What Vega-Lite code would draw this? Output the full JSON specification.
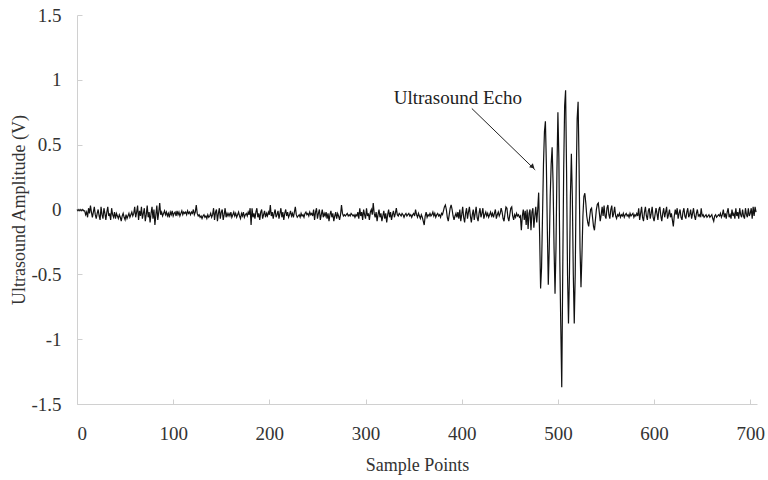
{
  "$schema": "https://vega.github.io/schema/vega-lite/v6.json",
  "width": 680,
  "height": 389,
  "autosize": {"type": "none"},
  "padding": {"left": 77, "top": 15, "right": 11, "bottom": 76},
  "background": "white",
  "config": {
    "view": {"stroke": null},
    "font": "Liberation Serif",
    "axis": {
      "grid": false,
      "domainColor": "#d0d0d0",
      "tickColor": "#d0d0d0",
      "tickSize": -5,
      "labelFont": "Liberation Serif",
      "labelFontSize": 19,
      "labelColor": "#333333",
      "titleFont": "Liberation Serif",
      "titleFontSize": 18,
      "titleFontWeight": "normal",
      "titleColor": "#333333"
    }
  },
  "datasets": {
    "signal": [
      {"x":0,"y":0},{"x":1,"y":-0.01},{"x":2,"y":0},{"x":3,"y":-0.01},{"x":4,"y":0},{"x":5,"y":-0.01},{"x":6,"y":0},{"x":7,"y":-0.01},{"x":8,"y":-0.01},{"x":9,"y":-0.04},
      {"x":10,"y":-0.02},{"x":11,"y":-0.06},{"x":12,"y":0.01},{"x":13,"y":-0.03},{"x":14,"y":0.03},{"x":15,"y":-0.02},{"x":16,"y":-0.06},{"x":17,"y":-0.02},{"x":18,"y":0.02},{"x":19,"y":-0.04},
      {"x":20,"y":-0.07},{"x":21,"y":-0.03},{"x":22,"y":0},{"x":23,"y":-0.05},{"x":24,"y":-0.08},{"x":25,"y":0.02},{"x":26,"y":-0.04},{"x":27,"y":-0.07},{"x":28,"y":0.01},{"x":29,"y":-0.03},
      {"x":30,"y":-0.08},{"x":31,"y":-0.02},{"x":32,"y":0.02},{"x":33,"y":-0.05},{"x":34,"y":-0.03},{"x":35,"y":-0.08},{"x":36,"y":0.01},{"x":37,"y":-0.04},{"x":38,"y":-0.06},{"x":39,"y":-0.02},
      {"x":40,"y":-0.07},{"x":41,"y":-0.03},{"x":42,"y":-0.05},{"x":43,"y":-0.07},{"x":44,"y":-0.04},{"x":45,"y":-0.06},{"x":46,"y":-0.09},{"x":47,"y":-0.05},{"x":48,"y":-0.03},{"x":49,"y":-0.06},
      {"x":50,"y":-0.08},{"x":51,"y":-0.04},{"x":52,"y":-0.07},{"x":53,"y":-0.05},{"x":54,"y":-0.03},{"x":55,"y":-0.06},{"x":56,"y":-0.04},{"x":57,"y":-0.02},{"x":58,"y":-0.05},{"x":59,"y":-0.03},
      {"x":60,"y":0.02},{"x":61,"y":-0.06},{"x":62,"y":-0.02},{"x":63,"y":0.03},{"x":64,"y":-0.08},{"x":65,"y":-0.01},{"x":66,"y":-0.05},{"x":67,"y":0.02},{"x":68,"y":-0.07},{"x":69,"y":-0.03},
      {"x":70,"y":0.01},{"x":71,"y":-0.09},{"x":72,"y":-0.04},{"x":73,"y":0.03},{"x":74,"y":-0.06},{"x":75,"y":-0.02},{"x":76,"y":-0.1},{"x":77,"y":-0.03},{"x":78,"y":0.02},{"x":79,"y":-0.07},
      {"x":80,"y":0},{"x":81,"y":-0.12},{"x":82,"y":-0.04},{"x":83,"y":0.03},{"x":84,"y":-0.08},{"x":85,"y":-0.02},{"x":86,"y":0.05},{"x":87,"y":-0.04},{"x":88,"y":-0.02},{"x":89,"y":-0.05},
      {"x":90,"y":-0.03},{"x":91,"y":-0.01},{"x":92,"y":-0.04},{"x":93,"y":-0.02},{"x":94,"y":-0.05},{"x":95,"y":-0.03},{"x":96,"y":-0.06},{"x":97,"y":-0.02},{"x":98,"y":-0.04},{"x":99,"y":-0.01},
      {"x":100,"y":-0.05},{"x":101,"y":-0.03},{"x":102,"y":-0.02},{"x":103,"y":-0.05},{"x":104,"y":-0.01},{"x":105,"y":-0.04},{"x":106,"y":-0.02},{"x":107,"y":-0.05},{"x":108,"y":-0.03},{"x":109,"y":-0.01},
      {"x":110,"y":-0.04},{"x":111,"y":-0.02},{"x":112,"y":-0.03},{"x":113,"y":-0.02},{"x":114,"y":-0.04},{"x":115,"y":-0.01},{"x":116,"y":-0.03},{"x":117,"y":-0.02},{"x":118,"y":-0.04},{"x":119,"y":-0.02},
      {"x":120,"y":-0.03},{"x":121,"y":0},{"x":122,"y":-0.04},{"x":123,"y":-0.02},{"x":124,"y":0.035},{"x":125,"y":-0.03},{"x":126,"y":-0.05},{"x":127,"y":-0.04},{"x":128,"y":-0.06},{"x":129,"y":-0.05},
      {"x":130,"y":-0.07},{"x":131,"y":-0.05},{"x":132,"y":-0.04},{"x":133,"y":-0.06},{"x":134,"y":-0.05},{"x":135,"y":-0.07},{"x":136,"y":-0.04},{"x":137,"y":-0.06},{"x":138,"y":-0.05},{"x":139,"y":-0.03},
      {"x":140,"y":-0.06},{"x":141,"y":-0.04},{"x":142,"y":0.01},{"x":143,"y":-0.08},{"x":144,"y":-0.02},{"x":145,"y":0},{"x":146,"y":-0.09},{"x":147,"y":-0.03},{"x":148,"y":0.01},{"x":149,"y":-0.07},
      {"x":150,"y":-0.02},{"x":151,"y":0},{"x":152,"y":-0.08},{"x":153,"y":-0.04},{"x":154,"y":0.01},{"x":155,"y":-0.06},{"x":156,"y":-0.03},{"x":157,"y":-0.05},{"x":158,"y":-0.03},{"x":159,"y":-0.05},
      {"x":160,"y":-0.02},{"x":161,"y":-0.06},{"x":162,"y":-0.04},{"x":163,"y":-0.02},{"x":164,"y":-0.05},{"x":165,"y":-0.03},{"x":166,"y":-0.06},{"x":167,"y":-0.04},{"x":168,"y":-0.02},{"x":169,"y":-0.05},
      {"x":170,"y":-0.07},{"x":171,"y":-0.03},{"x":172,"y":-0.05},{"x":173,"y":-0.02},{"x":174,"y":-0.06},{"x":175,"y":-0.04},{"x":176,"y":-0.03},{"x":177,"y":-0.05},{"x":178,"y":-0.02},{"x":179,"y":-0.04},
      {"x":180,"y":0.01},{"x":181,"y":-0.12},{"x":182,"y":0.01},{"x":183,"y":-0.06},{"x":184,"y":-0.03},{"x":185,"y":-0.07},{"x":186,"y":-0.02},{"x":187,"y":0.01},{"x":188,"y":-0.06},{"x":189,"y":-0.03},
      {"x":190,"y":-0.08},{"x":191,"y":-0.02},{"x":192,"y":0},{"x":193,"y":-0.07},{"x":194,"y":-0.04},{"x":195,"y":-0.01},{"x":196,"y":-0.06},{"x":197,"y":-0.03},{"x":198,"y":-0.05},{"x":199,"y":-0.02},
      {"x":200,"y":-0.04},{"x":201,"y":0.035},{"x":202,"y":-0.05},{"x":203,"y":-0.02},{"x":204,"y":-0.07},{"x":205,"y":-0.03},{"x":206,"y":0},{"x":207,"y":-0.06},{"x":208,"y":-0.04},{"x":209,"y":-0.01},
      {"x":210,"y":-0.07},{"x":211,"y":-0.03},{"x":212,"y":0.01},{"x":213,"y":-0.06},{"x":214,"y":-0.02},{"x":215,"y":-0.08},{"x":216,"y":-0.03},{"x":217,"y":0},{"x":218,"y":-0.05},{"x":219,"y":-0.02},
      {"x":220,"y":-0.06},{"x":221,"y":-0.04},{"x":222,"y":-0.01},{"x":223,"y":-0.05},{"x":224,"y":-0.03},{"x":225,"y":-0.06},{"x":226,"y":-0.02},{"x":227,"y":0.02},{"x":228,"y":-0.04},{"x":229,"y":-0.06},
      {"x":230,"y":-0.05},{"x":231,"y":-0.04},{"x":232,"y":-0.06},{"x":233,"y":-0.03},{"x":234,"y":-0.05},{"x":235,"y":-0.04},{"x":236,"y":-0.06},{"x":237,"y":-0.03},{"x":238,"y":-0.02},{"x":239,"y":-0.04},
      {"x":240,"y":-0.03},{"x":241,"y":-0.05},{"x":242,"y":-0.02},{"x":243,"y":-0.04},{"x":244,"y":-0.03},{"x":245,"y":-0.05},{"x":246,"y":0},{"x":247,"y":-0.08},{"x":248,"y":-0.02},{"x":249,"y":0.01},
      {"x":250,"y":-0.07},{"x":251,"y":-0.03},{"x":252,"y":0},{"x":253,"y":-0.08},{"x":254,"y":-0.04},{"x":255,"y":0},{"x":256,"y":-0.06},{"x":257,"y":-0.03},{"x":258,"y":-0.05},{"x":259,"y":-0.02},
      {"x":260,"y":-0.07},{"x":261,"y":-0.03},{"x":262,"y":-0.09},{"x":263,"y":-0.04},{"x":264,"y":-0.01},{"x":265,"y":-0.06},{"x":266,"y":-0.03},{"x":267,"y":-0.09},{"x":268,"y":-0.05},{"x":269,"y":-0.02},
      {"x":270,"y":-0.07},{"x":271,"y":-0.03},{"x":272,"y":-0.05},{"x":273,"y":-0.08},{"x":274,"y":-0.04},{"x":275,"y":0.035},{"x":276,"y":-0.03},{"x":277,"y":-0.05},{"x":278,"y":-0.04},{"x":279,"y":-0.05},
      {"x":280,"y":-0.04},{"x":281,"y":-0.03},{"x":282,"y":-0.05},{"x":283,"y":-0.04},{"x":284,"y":-0.05},{"x":285,"y":-0.03},{"x":286,"y":-0.04},{"x":287,"y":-0.05},{"x":288,"y":-0.04},{"x":289,"y":-0.06},
      {"x":290,"y":-0.04},{"x":291,"y":-0.05},{"x":292,"y":-0.02},{"x":293,"y":-0.07},{"x":294,"y":0.01},{"x":295,"y":-0.05},{"x":296,"y":-0.02},{"x":297,"y":-0.08},{"x":298,"y":0},{"x":299,"y":-0.04},
      {"x":300,"y":-0.07},{"x":301,"y":0.01},{"x":302,"y":-0.05},{"x":303,"y":-0.03},{"x":304,"y":-0.08},{"x":305,"y":-0.02},{"x":306,"y":0},{"x":307,"y":-0.04},{"x":308,"y":0.05},{"x":309,"y":-0.03},
      {"x":310,"y":-0.06},{"x":311,"y":-0.02},{"x":312,"y":-0.09},{"x":313,"y":-0.04},{"x":314,"y":0},{"x":315,"y":-0.06},{"x":316,"y":-0.03},{"x":317,"y":-0.09},{"x":318,"y":-0.05},{"x":319,"y":-0.01},
      {"x":320,"y":-0.07},{"x":321,"y":-0.03},{"x":322,"y":-0.1},{"x":323,"y":-0.04},{"x":324,"y":0},{"x":325,"y":-0.06},{"x":326,"y":-0.02},{"x":327,"y":-0.08},{"x":328,"y":-0.04},{"x":329,"y":-0.01},
      {"x":330,"y":-0.06},{"x":331,"y":-0.03},{"x":332,"y":0.01},{"x":333,"y":-0.04},{"x":334,"y":-0.05},{"x":335,"y":-0.03},{"x":336,"y":-0.04},{"x":337,"y":-0.05},{"x":338,"y":-0.03},{"x":339,"y":-0.04},
      {"x":340,"y":-0.06},{"x":341,"y":-0.04},{"x":342,"y":-0.03},{"x":343,"y":-0.05},{"x":344,"y":-0.04},{"x":345,"y":-0.03},{"x":346,"y":-0.05},{"x":347,"y":-0.04},{"x":348,"y":-0.06},{"x":349,"y":-0.04},
      {"x":350,"y":-0.03},{"x":351,"y":-0.05},{"x":352,"y":0},{"x":353,"y":-0.04},{"x":354,"y":-0.06},{"x":355,"y":-0.03},{"x":356,"y":-0.05},{"x":357,"y":-0.07},{"x":358,"y":-0.04},{"x":359,"y":-0.06},
      {"x":360,"y":-0.09},{"x":361,"y":-0.12},{"x":362,"y":-0.05},{"x":363,"y":-0.02},{"x":364,"y":-0.06},{"x":365,"y":-0.04},{"x":366,"y":-0.05},{"x":367,"y":-0.03},{"x":368,"y":-0.05},{"x":369,"y":-0.04},
      {"x":370,"y":-0.02},{"x":371,"y":-0.05},{"x":372,"y":-0.03},{"x":373,"y":-0.06},{"x":374,"y":-0.04},{"x":375,"y":-0.03},{"x":376,"y":-0.05},{"x":377,"y":-0.04},{"x":378,"y":-0.06},{"x":379,"y":-0.03},
      {"x":380,"y":-0.04},{"x":381,"y":-0.01},{"x":382,"y":0.02},{"x":383,"y":0.035},{"x":384,"y":0},{"x":385,"y":-0.06},{"x":386,"y":-0.09},{"x":387,"y":-0.04},{"x":388,"y":0.01},{"x":389,"y":0.035},
      {"x":390,"y":0},{"x":391,"y":-0.05},{"x":392,"y":-0.08},{"x":393,"y":-0.05},{"x":394,"y":-0.03},{"x":395,"y":-0.06},{"x":396,"y":-0.02},{"x":397,"y":-0.07},{"x":398,"y":0},{"x":399,"y":-0.09},
      {"x":400,"y":-0.04},{"x":401,"y":0.02},{"x":402,"y":-0.06},{"x":403,"y":-0.1},{"x":404,"y":-0.03},{"x":405,"y":0.01},{"x":406,"y":-0.07},{"x":407,"y":-0.02},{"x":408,"y":0.02},{"x":409,"y":-0.05},
      {"x":410,"y":-0.1},{"x":411,"y":-0.04},{"x":412,"y":0},{"x":413,"y":-0.08},{"x":414,"y":-0.03},{"x":415,"y":0.02},{"x":416,"y":-0.06},{"x":417,"y":-0.09},{"x":418,"y":-0.03},{"x":419,"y":0.01},
      {"x":420,"y":-0.06},{"x":421,"y":-0.03},{"x":422,"y":0.01},{"x":423,"y":-0.07},{"x":424,"y":-0.04},{"x":425,"y":-0.02},{"x":426,"y":-0.05},{"x":427,"y":-0.03},{"x":428,"y":-0.06},{"x":429,"y":-0.04},
      {"x":430,"y":-0.02},{"x":431,"y":-0.05},{"x":432,"y":-0.03},{"x":433,"y":-0.06},{"x":434,"y":-0.03},{"x":435,"y":0},{"x":436,"y":-0.07},{"x":437,"y":-0.04},{"x":438,"y":-0.02},{"x":439,"y":-0.05},
      {"x":440,"y":-0.03},{"x":441,"y":0.01},{"x":442,"y":-0.02},{"x":443,"y":-0.07},{"x":444,"y":-0.09},{"x":445,"y":-0.03},{"x":446,"y":0.02},{"x":447,"y":0.01},{"x":448,"y":-0.06},{"x":449,"y":-0.09},
      {"x":450,"y":-0.04},{"x":451,"y":0.01},{"x":452,"y":0.02},{"x":453,"y":-0.05},{"x":454,"y":-0.08},{"x":455,"y":-0.04},{"x":456,"y":-0.06},{"x":457,"y":-0.03},{"x":458,"y":-0.05},{"x":459,"y":-0.04},
      {"x":460,"y":-0.06},{"x":461,"y":-0.05},{"x":462,"y":-0.16},{"x":463,"y":-0.05},{"x":464,"y":0},{"x":465,"y":-0.08},{"x":466,"y":-0.01},{"x":467,"y":-0.12},{"x":468,"y":0},{"x":469,"y":-0.15},
      {"x":470,"y":-0.03},{"x":471,"y":0},{"x":472,"y":-0.16},{"x":473,"y":-0.02},{"x":474,"y":0.01},{"x":475,"y":-0.14},{"x":476,"y":-0.05},{"x":477,"y":0.02},{"x":478,"y":-0.1},{"x":479,"y":0},
      {"x":480,"y":0.13},{"x":481,"y":-0.2},{"x":482,"y":-0.61},{"x":483,"y":-0.45},{"x":484,"y":-0.05},{"x":485,"y":0.35},{"x":486,"y":0.6},{"x":487,"y":0.68},{"x":488,"y":0.35},{"x":489,"y":-0.15},
      {"x":490,"y":-0.58},{"x":491,"y":-0.3},{"x":492,"y":0.1},{"x":493,"y":0.35},{"x":494,"y":0.48},{"x":495,"y":0.2},{"x":496,"y":-0.3},{"x":497,"y":-0.65},{"x":498,"y":-0.3},{"x":499,"y":0.3},
      {"x":500,"y":0.75},{"x":501,"y":0.4},{"x":502,"y":-0.4},{"x":503,"y":-0.9},{"x":504,"y":-1.37},{"x":505,"y":-0.5},{"x":506,"y":0.3},{"x":507,"y":0.8},{"x":508,"y":0.92},{"x":509,"y":0.3},
      {"x":510,"y":-0.5},{"x":511,"y":-0.88},{"x":512,"y":-0.5},{"x":513,"y":0.1},{"x":514,"y":0.43},{"x":515,"y":0.1},{"x":516,"y":-0.5},{"x":517,"y":-0.88},{"x":518,"y":-0.5},{"x":519,"y":0.2},
      {"x":520,"y":0.7},{"x":521,"y":0.83},{"x":522,"y":0.35},{"x":523,"y":-0.3},{"x":524,"y":-0.6},{"x":525,"y":-0.35},{"x":526,"y":-0.05},{"x":527,"y":0.1},{"x":528,"y":0.125},{"x":529,"y":0.05},
      {"x":530,"y":-0.05},{"x":531,"y":-0.1},{"x":532,"y":-0.13},{"x":533,"y":-0.06},{"x":534,"y":0},{"x":535,"y":0.01},{"x":536,"y":-0.06},{"x":537,"y":-0.13},{"x":538,"y":-0.16},{"x":539,"y":-0.08},
      {"x":540,"y":0},{"x":541,"y":0.04},{"x":542,"y":0.05},{"x":543,"y":-0.02},{"x":544,"y":-0.09},{"x":545,"y":-0.04},{"x":546,"y":0.02},{"x":547,"y":-0.05},{"x":548,"y":0.03},{"x":549,"y":-0.05},
      {"x":550,"y":-0.07},{"x":551,"y":0.01},{"x":552,"y":0.035},{"x":553,"y":-0.04},{"x":554,"y":-0.07},{"x":555,"y":0},{"x":556,"y":0.03},{"x":557,"y":-0.06},{"x":558,"y":-0.03},{"x":559,"y":0.02},
      {"x":560,"y":-0.05},{"x":561,"y":-0.07},{"x":562,"y":-0.04},{"x":563,"y":-0.05},{"x":564,"y":-0.03},{"x":565,"y":-0.06},{"x":566,"y":-0.04},{"x":567,"y":-0.05},{"x":568,"y":-0.03},{"x":569,"y":-0.06},
      {"x":570,"y":-0.04},{"x":571,"y":-0.03},{"x":572,"y":-0.05},{"x":573,"y":-0.04},{"x":574,"y":-0.06},{"x":575,"y":-0.03},{"x":576,"y":-0.05},{"x":577,"y":-0.04},{"x":578,"y":-0.03},{"x":579,"y":-0.06},
      {"x":580,"y":-0.04},{"x":581,"y":-0.05},{"x":582,"y":-0.03},{"x":583,"y":-0.05},{"x":584,"y":0.01},{"x":585,"y":-0.08},{"x":586,"y":-0.03},{"x":587,"y":0.02},{"x":588,"y":-0.06},{"x":589,"y":-0.09},
      {"x":590,"y":-0.02},{"x":591,"y":0.02},{"x":592,"y":-0.05},{"x":593,"y":-0.08},{"x":594,"y":-0.01},{"x":595,"y":0.01},{"x":596,"y":-0.07},{"x":597,"y":-0.03},{"x":598,"y":0.02},{"x":599,"y":-0.06},
      {"x":600,"y":-0.09},{"x":601,"y":-0.04},{"x":602,"y":0.01},{"x":603,"y":-0.03},{"x":604,"y":-0.08},{"x":605,"y":0},{"x":606,"y":0.02},{"x":607,"y":-0.05},{"x":608,"y":-0.09},{"x":609,"y":-0.03},
      {"x":610,"y":0.01},{"x":611,"y":-0.06},{"x":612,"y":-0.02},{"x":613,"y":0.02},{"x":614,"y":-0.07},{"x":615,"y":-0.04},{"x":616,"y":0},{"x":617,"y":-0.06},{"x":618,"y":-0.03},{"x":619,"y":-0.08},
      {"x":620,"y":-0.13},{"x":621,"y":-0.05},{"x":622,"y":0},{"x":623,"y":-0.04},{"x":624,"y":0.01},{"x":625,"y":-0.07},{"x":626,"y":-0.03},{"x":627,"y":0},{"x":628,"y":-0.06},{"x":629,"y":-0.08},
      {"x":630,"y":-0.02},{"x":631,"y":0.01},{"x":632,"y":-0.05},{"x":633,"y":-0.07},{"x":634,"y":-0.02},{"x":635,"y":0.01},{"x":636,"y":-0.06},{"x":637,"y":-0.04},{"x":638,"y":0},{"x":639,"y":-0.07},
      {"x":640,"y":-0.03},{"x":641,"y":0.01},{"x":642,"y":-0.05},{"x":643,"y":-0.08},{"x":644,"y":-0.03},{"x":645,"y":0},{"x":646,"y":-0.05},{"x":647,"y":-0.04},{"x":648,"y":-0.06},{"x":649,"y":0.01},
      {"x":650,"y":-0.05},{"x":651,"y":-0.04},{"x":652,"y":-0.06},{"x":653,"y":-0.05},{"x":654,"y":-0.04},{"x":655,"y":-0.06},{"x":656,"y":-0.05},{"x":657,"y":-0.04},{"x":658,"y":-0.06},{"x":659,"y":-0.05},
      {"x":660,"y":-0.04},{"x":661,"y":-0.07},{"x":662,"y":-0.09},{"x":663,"y":-0.05},{"x":664,"y":-0.04},{"x":665,"y":-0.06},{"x":666,"y":-0.05},{"x":667,"y":-0.04},{"x":668,"y":-0.05},{"x":669,"y":-0.03},
      {"x":670,"y":-0.06},{"x":671,"y":-0.04},{"x":672,"y":0},{"x":673,"y":-0.06},{"x":674,"y":-0.03},{"x":675,"y":-0.07},{"x":676,"y":-0.02},{"x":677,"y":0.01},{"x":678,"y":-0.06},{"x":679,"y":-0.04},
      {"x":680,"y":-0.07},{"x":681,"y":0},{"x":682,"y":-0.05},{"x":683,"y":-0.03},{"x":684,"y":-0.07},{"x":685,"y":0.01},{"x":686,"y":-0.05},{"x":687,"y":-0.02},{"x":688,"y":-0.07},{"x":689,"y":0.01},
      {"x":690,"y":-0.04},{"x":691,"y":-0.06},{"x":692,"y":0},{"x":693,"y":-0.05},{"x":694,"y":-0.07},{"x":695,"y":0.01},{"x":696,"y":-0.04},{"x":697,"y":-0.06},{"x":698,"y":0.01},{"x":699,"y":-0.05},
      {"x":700,"y":-0.03},{"x":701,"y":0.01},{"x":702,"y":-0.07},{"x":703,"y":0.02},{"x":704,"y":-0.05},{"x":705,"y":0.02},{"x":706,"y":-0.02}
    ],
    "note": [{"x": 396, "y": 0.86, "label": "Ultrasound Echo"}],
    "arrow": [{"x1": 410.5, "y1": 0.779, "x2": 476.4, "y2": 0.305, "hx": 473.8, "hy": 0.328}]
  },
  "layer": [
    {
      "data": {"name": "signal"},
      "mark": {"type": "line", "color": "#111111", "strokeWidth": 1.2},
      "encoding": {
        "x": {
          "field": "x", "type": "quantitative",
          "scale": {"domain": [0, 707], "nice": false, "zero": false},
          "axis": {"title": "Sample Points", "values": [0, 100, 200, 300, 400, 500, 600, 700], "labelExpr": "'' + datum.value", "labelFont": "Liberation Serif", "labelPadding": 25, "titlePadding": 13}
        },
        "y": {
          "field": "y", "type": "quantitative",
          "scale": {"domain": [-1.5, 1.5], "nice": false},
          "axis": {"title": "Ultrasound Amplitude (V)", "values": [-1.5, -1, -0.5, 0, 0.5, 1, 1.5], "labelExpr": "'' + datum.value", "labelFont": "Liberation Serif", "labelPadding": 21, "titlePadding": 2}
        }
      }
    },
    {
      "data": {"name": "arrow"},
      "mark": {"type": "rule", "color": "#222222", "strokeWidth": 1},
      "encoding": {
        "x": {"field": "x1", "type": "quantitative"},
        "y": {"field": "y1", "type": "quantitative"},
        "x2": {"field": "x2"},
        "y2": {"field": "y2"}
      }
    },
    {
      "data": {"name": "arrow"},
      "mark": {"type": "point", "shape": "triangle-up", "filled": true, "color": "#222222", "size": 30, "angle": 134, "opacity": 1},
      "encoding": {
        "x": {"field": "hx", "type": "quantitative"},
        "y": {"field": "hy", "type": "quantitative"}
      }
    },
    {
      "data": {"name": "note"},
      "mark": {"type": "text", "fontSize": 19, "color": "#222222", "font": "Liberation Serif", "baseline": "middle", "align": "center"},
      "encoding": {
        "x": {"field": "x", "type": "quantitative"},
        "y": {"field": "y", "type": "quantitative"},
        "text": {"field": "label"}
      }
    }
  ]
}
